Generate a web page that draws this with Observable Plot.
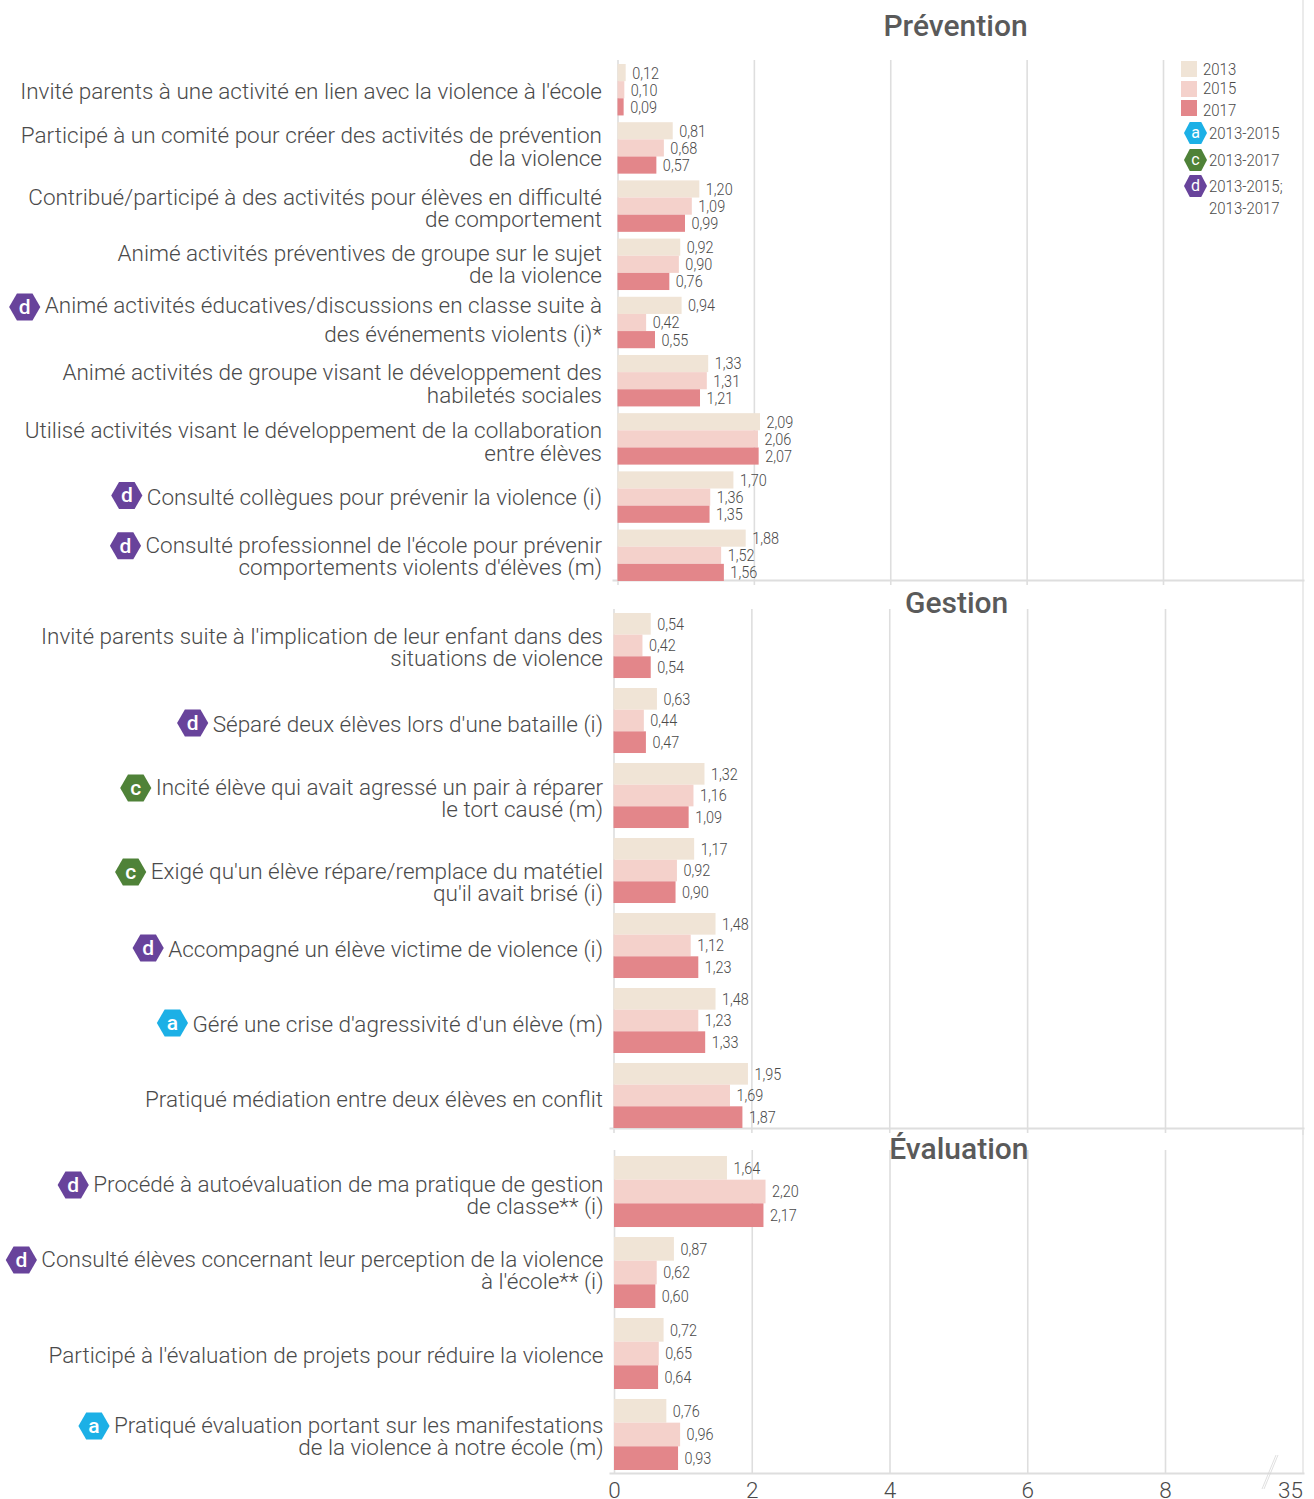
<!DOCTYPE html>
<html lang="fr">
<head>
<meta charset="utf-8">
<script src="https://cdn.jsdelivr.net/npm/d3@7"></script>
<script src="https://cdn.jsdelivr.net/npm/@observablehq/plot@0.6"></script>
<style>
  html, body { margin: 0; background: #fff; }
  #page { position: relative; width: 1314px; height: 1499px; overflow: hidden; font-family: Roboto, sans-serif; font-weight: 300; color: #4a4a4a; }
  .legend { position: absolute; left: 0; top: 0; font-size: 17px; }
  .legend div { position: absolute; line-height: 20px; white-space: nowrap; }
  .legend .lab { transform: scaleX(0.88); transform-origin: left center; }
  .legend .hex { clip-path: polygon(25% 0, 75% 0, 100% 50%, 75% 100%, 25% 100%, 0 50%); width: 23px; height: 22px; color: #fff; text-align: center; line-height: 21px; font-weight: 400; font-size: 16px; }
</style>
</head>
<body>
<div id="page"></div>
<script>
const years = ["2013", "2015", "2017"];
const yearColors = ["#f0e4d6", "#f4d1cb", "#e3868a"];
const badgeColors = { a: "#1cb0e6", c: "#4f8238", d: "#68439b" };

const preventionLabels = [
  "Invité parents à une activité en lien avec la violence à l'école",
  "Participé à un comité pour créer des activités de prévention\nde la violence",
  "Contribué/participé à des activités pour élèves en difficulté\nde comportement",
  "Animé activités préventives de groupe sur le sujet\nde la violence",
  "Animé activités éducatives/discussions en classe suite à\ndes événements violents (i)*",
  "Animé activités de groupe visant le développement des\nhabiletés sociales",
  "Utilisé activités visant le développement de la collaboration\nentre élèves",
  "Consulté collègues pour prévenir la violence (i)",
  "Consulté professionnel de l'école pour prévenir\ncomportements violents d'élèves (m)"
];
const preventionValues = [
  [0.12, 0.10, 0.09], [0.81, 0.68, 0.57], [1.20, 1.09, 0.99],
  [0.92, 0.90, 0.76], [0.94, 0.42, 0.55], [1.33, 1.31, 1.21],
  [2.09, 2.06, 2.07], [1.70, 1.36, 1.35], [1.88, 1.52, 1.56]
];
const preventionBadges = [null, null, null, null, "d", null, null, "d", "d"];

const gestionLabels = [
  "Invité parents suite à l'implication de leur enfant dans des\nsituations de violence",
  "Séparé deux élèves lors d'une bataille (i)",
  "Incité élève qui avait agressé un pair à réparer\nle tort causé (m)",
  "Exigé qu'un élève répare/remplace du matétiel\nqu'il avait brisé (i)",
  "Accompagné un élève victime de violence (i)",
  "Géré une crise d'agressivité d'un élève (m)",
  "Pratiqué médiation entre deux élèves en conflit"
];
const gestionValues = [
  [0.54, 0.42, 0.54], [0.63, 0.44, 0.47], [1.32, 1.16, 1.09], [1.17, 0.92, 0.90],
  [1.48, 1.12, 1.23], [1.48, 1.23, 1.33], [1.95, 1.69, 1.87]
];
const gestionBadges = [null, "d", "c", "c", "d", "a", null];

const evaluationLabels = [
  "Procédé à autoévaluation de ma pratique de gestion\nde classe** (i)",
  "Consulté élèves concernant leur perception de la violence\nà l'école** (i)",
  "Participé à l'évaluation de projets pour réduire la violence",
  "Pratiqué évaluation portant sur les manifestations\nde la violence à notre école (m)"
];
const evaluationValues = [
  [1.64, 2.20, 2.17], [0.87, 0.62, 0.60], [0.72, 0.65, 0.64], [0.76, 0.96, 0.93]
];
const evaluationBadges = ["d", "d", null, "a"];

const gridTicks = [0, 2, 4, 6, 8];
const axisTicks = [0, 2, 4, 6, 8];
const axisBreakTick = [35];

const FONT = 'Roboto, sans-serif';
const LABEL_SIZE = 22.5, VALUE_SIZE = 17, TITLE_SIZE = 30, LINE = 22.5;
const VALUE_SQUEEZE = 0.85;
const GRID = "#dedede", TEXT = "#4a4a4a", TITLE = "#5a5a5a";
const canvasCtx = document.createElement("canvas").getContext("2d");
const measure = s => { canvasCtx.font = `300 ${LABEL_SIZE}px ${FONT}`; return canvasCtx.measureText(s).width; };
const comma = v => v.toFixed(2).replace(".", ",");

function panel({title, labels, values, badges, top, height, marginTop, marginBottom, marginLeft, x0, x8, yRange, share, labelDx, labelNudge, titleX, titleDy, axis, wideRow}) {
  // y is a row-index scale: row i occupies [i, i + 1), and its three bars share the fraction `share` of it.
  const w = share / 3;
  const bars = labels.flatMap((label, i) => years.map((year, j) => ({
    label, year, value: values[i][j], y1: i + j * w, y2: i + (j + 1) * w, ym: i + (j + 0.5) * w
  })));
  const rows = labels.map((label, i) => ({label, badge: badges[i], lines: label.split("\n"), ym: i + share / 2, nudge: labelNudge[i]}));
  const marks = [
    Plot.ruleX(gridTicks, {x: d => d, stroke: GRID, strokeWidth: 1.6, insetBottom: axis ? 0 : -5}),
    Plot.ruleX(axisBreakTick, {x: d => d, stroke: GRID, strokeWidth: 1.2, insetTop: -marginTop, insetBottom: axis ? 0 : -marginBottom}),
    Plot.frame({anchor: "bottom", stroke: GRID, strokeWidth: 2}),
    Plot.text([title], {x: titleX, frameAnchor: "top", lineAnchor: "middle", dy: titleDy, text: d => d, fontSize: TITLE_SIZE, fontWeight: 500, fill: TITLE}),
    Plot.rect(bars, {x1: () => 0, x2: "value", y1: "y1", y2: "y2", fill: "year"}),
    Plot.text(bars, {x: "value", y: "ym", text: d => comma(d.value), dx: 6, textAnchor: "start", fontSize: VALUE_SIZE, fontWeight: 300, fill: TEXT})
  ];
  for (const r of rows) {
    const isWide = r.label === wideRow;
    marks.push(Plot.text([r], {x: 0, y: "ym", text: "label", dx: labelDx, dy: r.nudge + (isWide ? -4 : 0), textAnchor: "end", fontSize: LABEL_SIZE, fontWeight: 300, lineHeight: (isWide ? 29 : LINE) / LABEL_SIZE, fill: TEXT}));
    if (!r.badge) continue;
    const dx = labelDx - measure(r.lines[0]) - 20;
    const dy = r.nudge + (r.lines.length > 1 ? (isWide ? -15 : -11) : -2);
    marks.push(
      Plot.dot([r], {x: 0, y: "ym", symbol: "hexagon", r: 13.5, rotate: 90, fill: badgeColors[r.badge], dx, dy}),
      Plot.text([r], {x: 0, y: "ym", text: "badge", dx, dy, fontSize: 21, fontWeight: 500, fill: "#fff"})
    );
  }
  if (axis) {
    marks.push(
      Plot.text(axisTicks, {x: d => d, frameAnchor: "bottom", lineAnchor: "middle", dy: 17, text: d => String(d), fontSize: LABEL_SIZE, fontWeight: 300, fill: TEXT}),
      Plot.text(axisBreakTick, {x: d => d, frameAnchor: "bottom", lineAnchor: "middle", dy: 17, text: d => String(d), textAnchor: "end", fontSize: LABEL_SIZE, fontWeight: 300, fill: TEXT})
    );
  }
  const chart = Plot.plot({
    width: 1314, height, marginTop, marginBottom, marginLeft, marginRight: 11,
    style: {fontFamily: FONT, background: "transparent", overflow: "visible", maxWidth: "none"},
    x: {type: "linear", domain: [0, 8, 35], range: [x0, x8, 1302.5], axis: null},
    y: {type: "linear", domain: [0, labels.length - 1 + share], range: yRange, axis: null},
    color: {domain: years, range: yearColors},
    marks
  });
  chart.style.position = "absolute";
  chart.style.left = "0";
  chart.style.top = top + "px";
  return chart;
}

// The reference's value labels are narrow: condense them once the chart is in the page.
function condense(chart) {
  for (const g of chart.querySelectorAll("g[aria-label='text']")) {
    if (Number(g.getAttribute("font-size")) !== VALUE_SIZE) continue;
    for (const t of g.querySelectorAll("text")) {
      t.setAttribute("textLength", t.getComputedTextLength() * VALUE_SQUEEZE);
      t.setAttribute("lengthAdjust", "spacingAndGlyphs");
    }
  }
}

const page = document.getElementById("page");
const charts = [
  panel({title: "Prévention", labels: preventionLabels, values: preventionValues, badges: preventionBadges,
    top: 0, height: 590, marginTop: 60, marginBottom: 10, marginLeft: 613, x0: 617.5, x8: 1163,
    yRange: [64, 581], share: 0.884, labelDx: -16, labelNudge: [2, -1, 2, 0, -1, 3, 3, 0, 1],
    titleX: 4.95, titleDy: -34, wideRow: preventionLabels[4]}),
  panel({title: "Gestion", labels: gestionLabels, values: gestionValues, badges: gestionBadges,
    top: 590, height: 545, marginTop: 19, marginBottom: 7, marginLeft: 610, x0: 613.5, x8: 1165,
    yRange: [23, 538], share: 0.867, labelDx: -11, labelNudge: [2, 4, 3, 12, 4, 4, 4],
    titleX: 4.97, titleDy: -6}),
  panel({title: "Évaluation", labels: evaluationLabels, values: evaluationValues, badges: evaluationBadges,
    top: 1130, height: 369, marginTop: 20, marginBottom: 26, marginLeft: 610, x0: 614, x8: 1165,
    yRange: [26, 340], share: 0.877, labelDx: -11, labelNudge: [4, -2, 2, 2],
    titleX: 5, titleDy: -1, axis: true})
];
page.append(...charts);
charts.forEach(condense);

// Legend
const legend = document.createElement("div");
legend.className = "legend";
const place = (el, l, t) => { el.style.left = l + "px"; el.style.top = t + "px"; legend.append(el); };
const legendYears = [[61, 59], [81, 78], [100, 100]];
years.forEach((y, i) => {
  const sw = document.createElement("div");
  sw.style.cssText = `width:16px;height:16px;background:${yearColors[i]}`;
  place(sw, 1181, legendYears[i][0]);
  const t = document.createElement("div");
  t.className = "lab";
  t.textContent = y;
  place(t, 1203, legendYears[i][1]);
});
[["a", ["2013-2015"], 122], ["c", ["2013-2017"], 149], ["d", ["2013-2015;", "2013-2017"], 175]].forEach(([k, lines, t]) => {
  const h = document.createElement("div");
  h.className = "hex"; h.textContent = k; h.style.background = badgeColors[k];
  place(h, 1184, t);
  lines.forEach((s, i) => {
    const e = document.createElement("div");
    e.className = "lab";
    e.textContent = s;
    place(e, 1209, t + 1 + i * 22);
  });
});
page.append(legend);

// Axis break marks
const ns = "http://www.w3.org/2000/svg";
const brk = document.createElementNS(ns, "svg");
brk.setAttribute("width", 1314); brk.setAttribute("height", 1499);
brk.style.cssText = "position:absolute;left:0;top:0;pointer-events:none";
brk.innerHTML = `<path d="M1262 1489L1276 1455M1264 1489L1278 1455" stroke="#d8d8d8" stroke-width="0.8" fill="none"/>`;
page.append(brk);
</script>
</body>
</html>
